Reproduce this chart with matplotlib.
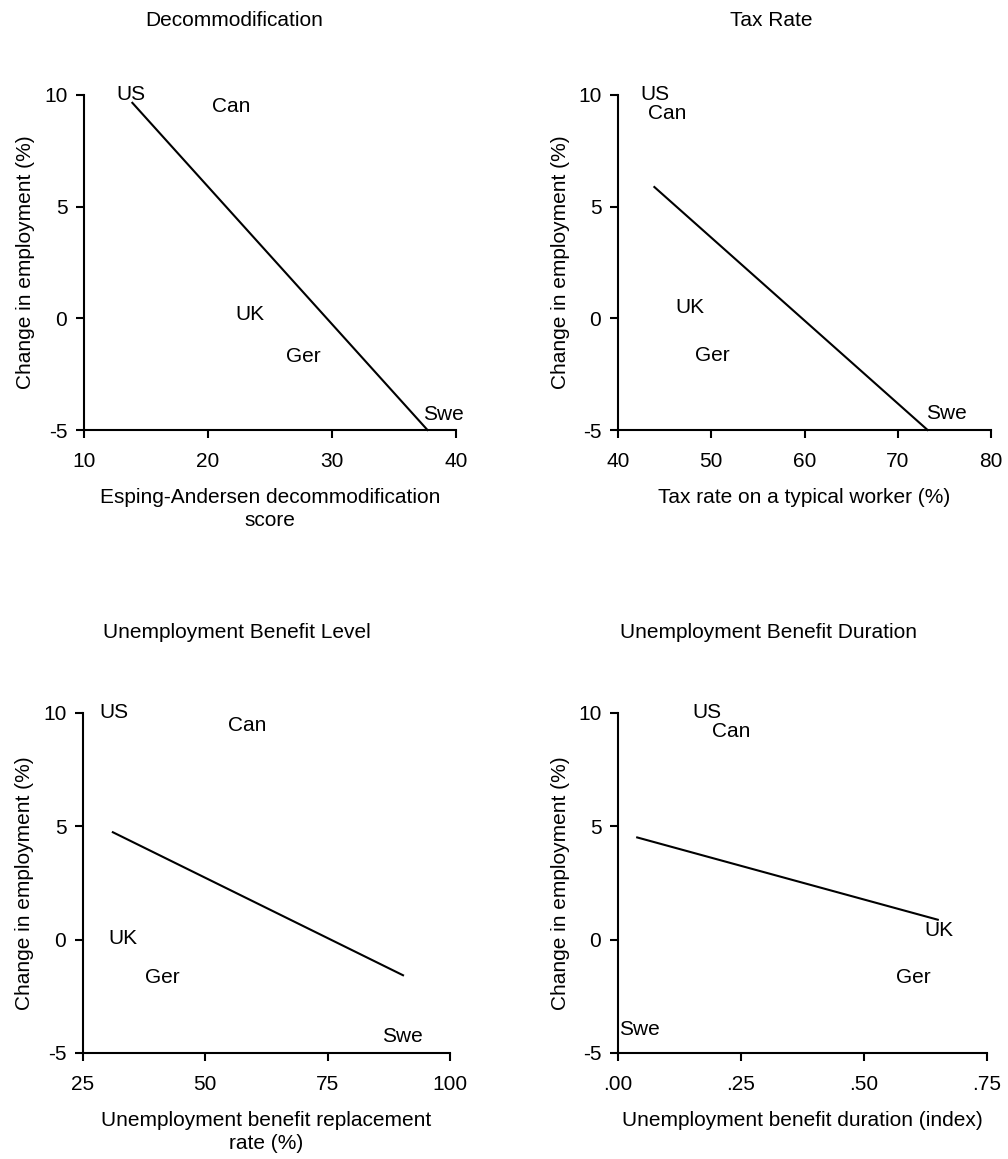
import matplotlib
matplotlib.use("Agg")
import matplotlib.pyplot as plt

plt.rcParams['font.family'] = ['Liberation Sans', 'DejaVu Sans']
plt.rcParams['font.size'] = 15

countries = ["US", "Can", "UK", "Ger", "Swe"]

# label positions (x = policy measure, y = change in employment)
decom_x = [13.8, 21.9, 23.4, 27.7, 39.0]
decom_y = [10.0, 9.5, 0.15, -1.7, -4.3]
decom_fit_x = [13.9, 37.7]
decom_fit_y = [9.65, -5.0]

tax_x = [44.0, 45.3, 47.7, 50.1, 75.2]
tax_y = [10.0, 9.15, 0.5, -1.65, -4.25]
tax_fit_x = [43.9, 73.2]
tax_fit_y = [5.88, -5.0]

level_x = [31.3, 58.6, 33.2, 41.2, 90.2]
level_y = [10.0, 9.47, 0.05, -1.69, -4.26]
level_fit_x = [31.1, 90.4]
level_fit_y = [4.74, -1.57]

dur_x = [0.18, 0.23, 0.653, 0.601, 0.044]
dur_y = [10.0, 9.2, 0.41, -1.69, -3.97]
dur_fit_x = [0.039, 0.650]
dur_fit_y = [4.51, 0.88]

y_ticks = [-5, 0, 5, 10]
y_tick_labels = ["-5", "0", "5", "10"]

titles = ["Decommodification", "Tax Rate",
          "Unemployment Benefit Level", "Unemployment Benefit Duration"]
xlabels = ["Esping-Andersen decommodification\nscore",
           "Tax rate on a typical worker (%)",
           "Unemployment benefit replacement\nrate (%)",
           "Unemployment benefit duration (index)"]
x_ticks = [[10, 20, 30, 40], [40, 50, 60, 70, 80],
           [25, 50, 75, 100], [0, 0.25, 0.5, 0.75]]
x_tick_labels = [["10", "20", "30", "40"], ["40", "50", "60", "70", "80"],
                 ["25", "50", "75", "100"], [".00", ".25", ".50", ".75"]]

W, H = 1008, 1159
fig = plt.figure(figsize=(W / 100, H / 100), dpi=100)

def box(l, r, t, b):
    return [l / W, 1 - b / H, (r - l) / W, (b - t) / H]

# pixel boxes of the four plot areas and their title centres
boxes = [(84, 456, 95, 430), (618, 991, 95, 430),
         (83, 450, 713, 1053), (618, 987, 713, 1053)]
title_pos = [(234, 20), (771, 20), (237, 633), (769, 633)]

panels = [(decom_x, decom_y, decom_fit_x, decom_fit_y),
          (tax_x, tax_y, tax_fit_x, tax_fit_y),
          (level_x, level_y, level_fit_x, level_fit_y),
          (dur_x, dur_y, dur_fit_x, dur_fit_y)]

for i in range(4):
    l, r, t, b = boxes[i]
    ax = fig.add_axes(box(l, r, t, b))
    px, py, fx, fy = panels[i]

    ax.plot(fx, fy, color="black", lw=1.5, clip_on=False)
    for name, x, y in zip(countries, px, py):
        ax.text(x, y, name, ha="center", va="center", clip_on=False)

    ax.set_xlim(x_ticks[i][0], x_ticks[i][-1])
    ax.set_ylim(-5, 10)
    ax.set_xticks(x_ticks[i], x_tick_labels[i])
    ax.set_yticks(y_ticks, y_tick_labels)

    for s in ["top", "right"]:
        ax.spines[s].set_visible(False)
    for s in ["left", "bottom"]:
        ax.spines[s].set_linewidth(1.5)
    ax.tick_params(axis="both", direction="out", length=6, width=1.5)
    ax.tick_params(axis="x", pad=10)
    ax.tick_params(axis="y", pad=6)

    ax.set_ylabel("Change in employment (%)", va="center")
    ax.yaxis.set_label_coords(-58 / (r - l), 0.5)
    ax.set_xlabel(xlabels[i], va="top", linespacing=1.25)
    ax.xaxis.set_label_coords(0.5, -58 / (b - t))

    tx, ty = title_pos[i]
    fig.text(tx / W, 1 - ty / H, titles[i], ha="center", va="center")

fig.savefig("out.png", dpi=100, facecolor="white")
